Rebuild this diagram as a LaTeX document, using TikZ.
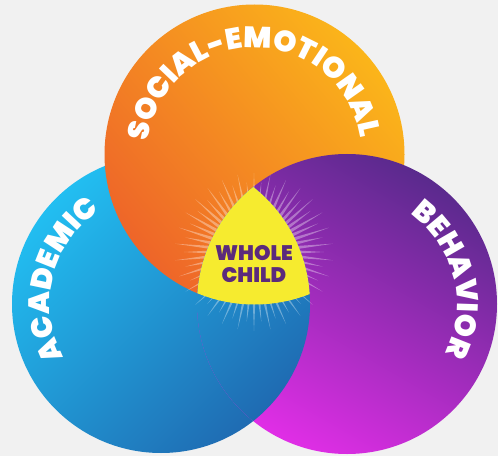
\documentclass[tikz,border=0pt]{standalone}
\usepackage{fontspec}
\setmainfont{Poppins}
\newfontfamily\heavy{Poppins Black}
\usetikzlibrary{decorations.text}

\definecolor{bgray}{HTML}{F1F1F1}
\definecolor{seLight}{HTML}{FBB51A}
\definecolor{seDark}{HTML}{EE6529}
\definecolor{acLight}{HTML}{22BEF1}
\definecolor{acDark}{HTML}{1F6BB2}
\definecolor{bhDark}{HTML}{5A2A8D}
\definecolor{bhLight}{HTML}{E02EE6}
\definecolor{wcyellow}{HTML}{F6EB2F}
\definecolor{wcpurple}{HTML}{5B2A7C}

\newcommand\arcfont{\color{white}\heavy\fontsize{29.5}{29.5}\selectfont}
\newcommand\wcfont{\heavy\fontsize{21}{22.5}\selectfont}

\begin{document}
\begin{tikzpicture}[x=1pt,y=1pt,
    orange disc/.style={top color=seLight,bottom color=seDark,shading angle=-50},
    blue disc/.style={top color=acLight,bottom color=acDark,shading angle=45},
    purple disc/.style={top color=bhDark,bottom color=bhLight,shading angle=-30},
    ray/.style={fill=white,fill opacity=0.35},
    arc label/.style={decorate,decoration={text along path,text align=center,
        text={|\arcfont|#1}}}]

    \useasboundingbox[fill=bgray] (0,0) rectangle (498,456);

    \coordinate (se) at (254.5,301.5);
    \coordinate (ac) at (161,152);
    \coordinate (bh) at (347,152);
    \coordinate (wc) at (254,204);

    % the three circles overlap in a cycle
    \shade[blue disc] (ac) circle[radius=149pt];
    \shade[orange disc] (se) circle[radius=150pt];
    \shade[purple disc] (bh) circle[radius=150pt];
    \begin{scope}
      \clip (bh) circle[radius=150pt];
      \shade[blue disc] (ac) circle[radius=149pt];
    \end{scope}

    \begin{scope}[shift={(wc)}]
      \foreach \a [count=\i] in {0,6,...,354}{
        \pgfmathsetmacro\len{mod(\i,2)==0 ? 79 : 70}
        \fill[ray] (\a-2.4:40pt) -- (\a:\len pt) -- (\a+2.4:40pt) -- cycle;
      }
    \end{scope}

    \begin{scope}
      \clip (se) circle[radius=150pt];
      \clip (ac) circle[radius=149pt];
      \fill[wcyellow] (bh) circle[radius=150pt];
    \end{scope}

    \node[font=\wcfont,text=wcpurple,align=center] (whole) at (254,192) {WHOLE\\CHILD};

    \path[arc label=SOCIAL-EMOTIONAL] (se) ++(171:107pt) arc[start angle=171,end angle=11,radius=107pt];
    \path[arc label=ACADEMIC] (ac) ++(226:111pt) arc[start angle=226,end angle=106,radius=111pt];
    \path[arc label=BEHAVIOR] (bh) ++(74:110pt) arc[start angle=74,end angle=-46,radius=110pt];
  \end{tikzpicture}
\end{document}
